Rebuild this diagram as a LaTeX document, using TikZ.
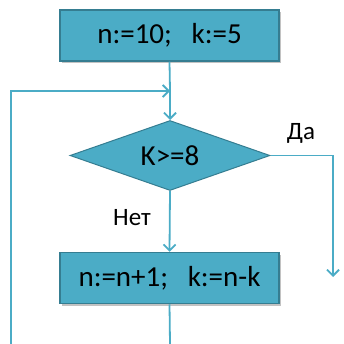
\documentclass[tikz,border=0pt]{standalone}
\usepackage{fontspec}
\setmainfont{Carlito}
\usetikzlibrary{shapes.geometric,shadows,arrows.meta}
\definecolor{fillc}{HTML}{4BACC6}
\definecolor{borderc}{HTML}{357D91}
\definecolor{linec}{HTML}{4BACC6}
\begin{document}
\begin{tikzpicture}[x=1pt,y=-1pt,
  blockbox/.style={draw=borderc,line width=1.5pt,fill=fillc,minimum width=219pt,minimum height=51pt,inner sep=0pt,
    drop shadow={shadow xshift=2pt,shadow yshift=-2pt,opacity=0.4,fill=black!60},
    font=\fontsize{29}{32}\selectfont},
  decision/.style={diamond,draw=borderc,line width=1pt,fill=fillc,minimum width=200pt,minimum height=70pt,inner sep=0pt,aspect=2.86,
    font=\fontsize{29}{32}\selectfont},
  conn/.style={draw=linec,line width=1.8pt},
  arr/.style={conn,-{Straight Barb[length=6pt,width=12pt,line width=1.8pt]}},
  lbl/.style={font=\fontsize{25}{28}\selectfont,inner sep=0pt}]
\useasboundingbox (0,0) rectangle (343,344);
\node[blockbox] (init) at (169.5,35.5) {n:=10;\ \ \ k:=5};
\node[decision] (cond) at (170,155.5) {K>=8};
\node[blockbox] (body) at (169.5,278) {n:=n+1;\ \ \ k:=n-k};
\coordinate (merge) at (170,91);
\coordinate (loopbot) at (11,344);
\coordinate (loopcorner) at (11,91);
\coordinate (yescorner) at (333,155.5);
\coordinate (yesend) at (333,277);
\coordinate (bodyout) at (170,344);
\draw[conn] (init.south) -- (merge);
\draw[arr] (merge) -- (cond.north);
\draw[arr] (loopbot) -- (loopcorner) -- (merge);
\draw[arr] (cond.east) -- (yescorner) -- (yesend);
\draw[arr] (cond.south) -- (body.north);
\draw[conn] (body.south) -- (bodyout);
\node[lbl] (yes) at (301,133) {Да};
\node[lbl] (no) at (132,218) {Нет};
\end{tikzpicture}
\end{document}
